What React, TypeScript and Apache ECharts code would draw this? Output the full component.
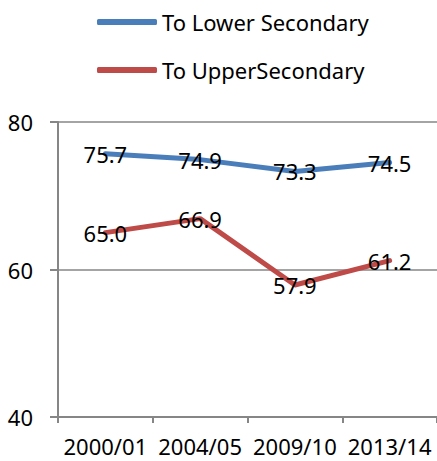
import React, { useEffect, useRef } from "react";
import * as echarts from "echarts";

const categories = ["2000/01", "2004/05", "2009/10", "2013/14"];
const lowerSecondary = [75.7, 74.9, 73.3, 74.5];
const upperSecondary = [65.0, 66.9, 57.9, 61.2];
const seriesNames = ["To Lower Secondary", "To UpperSecondary"];
const seriesColors = ["#4a7ebb", "#be4b48"];
const yMin = 40;
const yMax = 80;
const yInterval = 20;

export default function App() {
  const ref = useRef<HTMLDivElement>(null);
  useEffect(() => {
    if (!ref.current) return;
    const chart = echarts.init(ref.current, null, { renderer: "svg" });
    const font = "Noto Sans";
    const labelCfg = {
      show: true,
      position: "top",
      distance: 0,
      offset: [0, 12],
      color: "#000",
      fontSize: 22,
      fontFamily: font,
      formatter: (p: any) => Number(p.value).toFixed(1),
    };
    const mkSeries = (i: number, data: number[]) => ({
      name: seriesNames[i],
      type: "line",
      data,
      symbol: "circle",
      symbolSize: 2,
      showSymbol: true,
      color: seriesColors[i],
      itemStyle: { color: seriesColors[i] },
      lineStyle: { width: 5, color: seriesColors[i], cap: "round" },
      label: labelCfg,
      z: 2,
    });
    chart.setOption({
      animation: false,
      textStyle: { fontFamily: font },
      legend: {
        orient: "vertical",
        left: 97,
        top: 11,
        padding: 0,
        itemGap: 26,
        itemWidth: 60,
        itemHeight: 6,
        icon: "roundRect",
        textStyle: { fontSize: 22, color: "#000", fontFamily: font },
        data: seriesNames,
      },
      grid: { left: 58, right: 0, top: 122, bottom: 44, containLabel: false },
      xAxis: {
        type: "category",
        data: categories,
        boundaryGap: true,
        axisLine: { lineStyle: { color: "#868686", width: 2 } },
        axisTick: { show: true, length: 6, lineStyle: { color: "#868686", width: 2 } },
        axisLabel: {
          color: "#000",
          fontSize: 22,
          lineHeight: 22,
          fontFamily: font,
          margin: 18,
          interval: 0,
        },
      },
      yAxis: {
        type: "value",
        min: yMin,
        max: yMax,
        interval: yInterval,
        axisLine: { show: true, lineStyle: { color: "#868686", width: 2 } },
        axisTick: { show: true, length: 8, lineStyle: { color: "#868686", width: 2 } },
        axisLabel: { color: "#000", fontSize: 22, fontFamily: font, margin: 25 },
        splitLine: { show: true, lineStyle: { color: "#868686", width: 1.5 } },
      },
      series: [mkSeries(0, lowerSecondary), mkSeries(1, upperSecondary)],
    });
    return () => chart.dispose();
  }, []);
  return (
    <div
      ref={ref}
      style={{ position: "fixed", left: 0, top: 0, width: 437, height: 461, background: "#fff" }}
    />
  );
}
